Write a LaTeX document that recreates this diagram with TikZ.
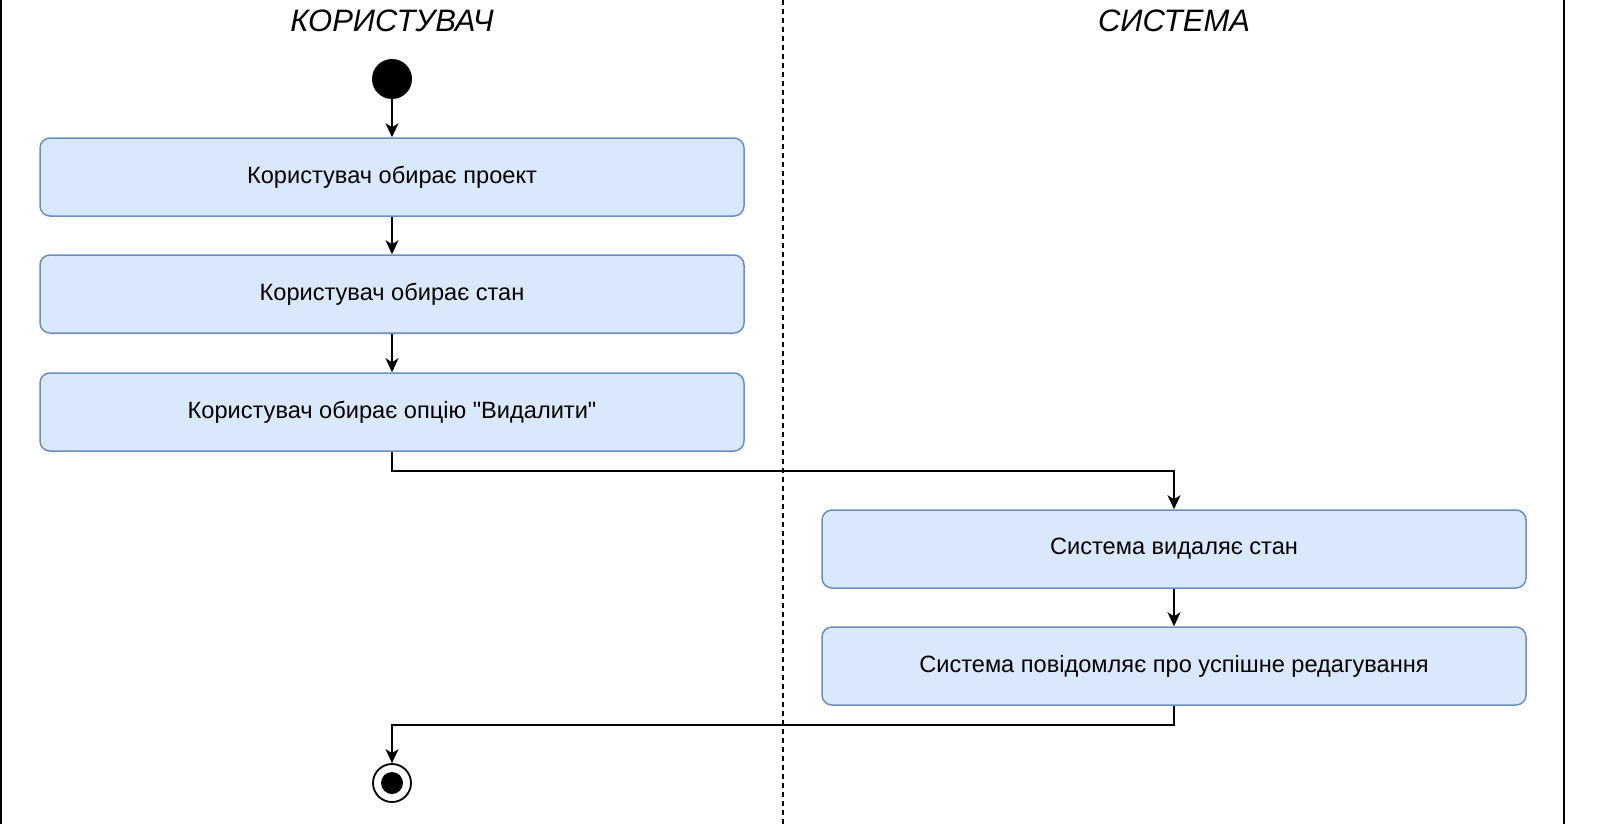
\documentclass[tikz,border=0pt]{standalone}
\usepackage{fontspec}
\setmainfont{Liberation Sans}[Ligatures=TeXOff]
\usetikzlibrary{arrows.meta}

\definecolor{boxfill}{HTML}{DAE8FC}
\definecolor{boxline}{HTML}{6C8EBF}

\begin{document}
\begin{tikzpicture}[x=0.5pt,y=-0.5pt,
		action/.style={draw=boxline,fill=boxfill,line width=0.75pt,rounded corners=5pt,
			minimum width=352pt,minimum height=39pt,inner sep=0pt,font=\fontsize{11.8}{14}\selectfont},
		flow/.style={-{Stealth[length=7pt,width=6.5pt,inset=2pt]},line width=1pt},
		lane/.style={font=\fontsize{15.5}{18}\selectfont\itshape}]

		\useasboundingbox (0,0) rectangle (1604,824);

		% swimlanes
		\draw[line width=1pt] (1,0) -- (1,824);
		\draw[line width=1pt] (1564,0) -- (1564,824);
		\draw[line width=0.8pt,dash pattern=on 2.5pt off 2pt] (783,0) -- (783,824);
		\node[lane] (user) at ( 392, 21) {КОРИСТУВАЧ};
		\node[lane] (sys)  at (1174, 21) {СИСТЕМА};

		% states
		\node[circle,fill=black,minimum size=20pt,inner sep=0pt] (start) at (392,79) {};
		\node[action] (a1) at ( 392,177) {Користувач обирає проект};
		\node[action] (a2) at ( 392,294) {Користувач обирає стан};
		\node[action] (a3) at ( 392,412) {Користувач обирає опцію "Видалити"};
		\node[action] (a4) at (1174,549) {Система видаляє стан};
		\node[action] (a5) at (1174,666) {Система повідомляє про успішне редагування};
		\node[circle,draw,line width=0.9pt,minimum size=19pt,inner sep=0pt] (stop) at (392,783) {};\fill (stop) circle (5.5pt);

		% transitions
		\draw[flow] (start) to (a1);
		\draw[flow] (a1) to (a2);
		\draw[flow] (a2) to (a3);
		\draw[flow] (a3.south) -- ++(0,19) -| (a4.north);
		\draw[flow] (a4) to (a5);
		\draw[flow] (a5.south) -- ++(0,19) -| (stop.north);

	\end{tikzpicture}
\end{document}
